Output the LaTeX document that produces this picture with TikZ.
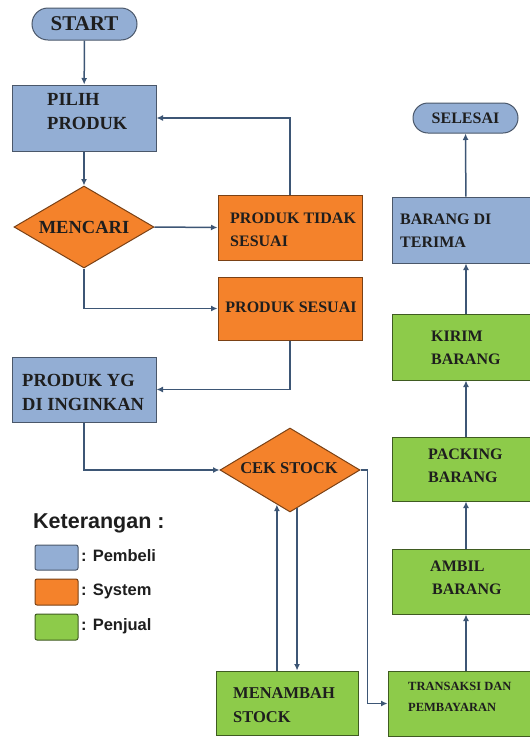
\documentclass[tikz,border=0pt]{standalone}
\usepackage{fontspec}
\setmainfont{Liberation Serif}
\newfontfamily\legfont{Liberation Sans}
\usetikzlibrary{shapes.geometric,shapes.misc,arrows.meta,calc}
\definecolor{cblue}{HTML}{93AED4}
\definecolor{corange}{HTML}{F4822B}
\definecolor{cgreen}{HTML}{8DCB4A}
\definecolor{cline}{HTML}{3D5675}
\definecolor{ctext}{HTML}{1E1E1E}
\begin{document}
\begin{tikzpicture}[x=1pt,y=-1pt,
  box/.style={line width=1pt, inner sep=0pt, rectangle},
  bluebox/.style={box, fill=cblue, draw=cblue!50!black},
  orangebox/.style={box, fill=corange, draw=corange!50!black},
  greenbox/.style={box, fill=cgreen, draw=cgreen!45!black},
  pill/.style={rounded rectangle, line width=1pt, inner sep=0pt, fill=cblue, draw=cblue!50!black},
  dia/.style={diamond, line width=1pt, inner sep=0pt, fill=corange, draw=corange!50!black},
  arr/.style={draw=cline, line width=1.5pt, -{Latex[length=6.5pt,width=6pt]}},
  lbl/.style={text=ctext, align=left, inner sep=0pt},
  big/.style={lbl, font=\fontsize{18.5}{24}\selectfont\bfseries},
  mid/.style={lbl, font=\fontsize{16}{23}\selectfont\bfseries},
  small/.style={lbl, font=\fontsize{12.5}{21}\selectfont\bfseries},
  leg/.style={lbl, font=\legfont\fontsize{16.5}{20}\selectfont\bfseries},
]
\useasboundingbox (0,0) rectangle (530,737);

% shapes
\node[pill, minimum width=105pt, minimum height=32pt] (start) at (84.5,24) {};
\node[bluebox, minimum width=144pt, minimum height=66pt] (pilih) at (84,118) {};
\node[dia, minimum width=140pt, minimum height=82pt] (mencari) at (84,227) {};
\node[orangebox, minimum width=144pt, minimum height=65pt] (tidak) at (290,227.5) {};
\node[orangebox, minimum width=144pt, minimum height=63pt] (sesuai) at (290,308.5) {};
\node[bluebox, minimum width=144pt, minimum height=65pt] (yg) at (84,389.5) {};
\node[dia, minimum width=140pt, minimum height=84pt] (cek) at (290,470) {};
\node[greenbox, minimum width=142pt, minimum height=64pt] (tambah) at (287,703) {};
\node[greenbox, minimum width=156pt, minimum height=65pt] (trans) at (466,703.5) {};
\node[greenbox, minimum width=148pt, minimum height=65pt] (ambil) at (466,581.5) {};
\node[greenbox, minimum width=148pt, minimum height=64pt] (packing) at (466,469) {};
\node[greenbox, minimum width=148pt, minimum height=66pt] (kirim) at (466,347) {};
\node[bluebox, minimum width=148pt, minimum height=66pt] (terima) at (466,230) {};
\node[pill, minimum width=105pt, minimum height=30pt] (selesai) at (465.5,118) {};

% texts
\node[lbl, font=\fontsize{21}{24}\selectfont\bfseries] (tstart) at (start) {START};
\node[big, anchor=west] (tpilih) at (47,112) {PILIH\\PRODUK};
\node[big] (tmencari) at (mencari) {MENCARI};
\node[mid, anchor=west] (ttidak) at (230,230) {PRODUK TIDAK\\SESUAI};
\node[mid] (tsesuai) at (291,307) {PRODUK SESUAI};
\node[big, anchor=west] (tyg) at (22,392) {PRODUK YG\\DI INGINKAN};
\node[mid, font=\fontsize{16.5}{23}\selectfont\bfseries] (tcek) at (289,468) {CEK STOCK};
\node[mid, font=\fontsize{16.5}{24}\selectfont\bfseries, anchor=west] (ttambah) at (233,705) {MENAMBAH\\STOCK};
\node[small, anchor=west] (ttrans) at (408,697) {TRANSAKSI DAN\\PEMBAYARAN};
\node[mid, anchor=west] (tambil) at (430,578) {AMBIL\\\hspace*{2pt}BARANG};
\node[mid, anchor=west] (tpacking) at (428,466) {PACKING\\BARANG};
\node[mid, anchor=west] (tkirim) at (431,348) {KIRIM\\BARANG};
\node[mid, anchor=west] (tterima) at (400,231) {BARANG DI\\TERIMA};
\node[lbl, font=\fontsize{16}{20}\selectfont\bfseries] (tselesai) at (selesai) {SELESAI};

% connectors
\draw[arr] (start) -- (pilih);
\draw[arr] (pilih) -- (mencari);
\draw[arr] (mencari.east) -- (tidak.west);
\draw[arr] (tidak.north) |- (pilih.east);
\draw[arr] (mencari.south) |- (sesuai.west);
\draw[arr] (sesuai.south) |- (yg.east);
\draw[arr] (yg.south) |- (cek.west);
\coordinate (bend) at ($(cek.east)+(7,0)$);
\draw[arr] (cek.east) -- (bend) |- (trans.west);
\coordinate (cu) at ($(cek.south)!0.186!(cek.west)$);
\coordinate (cd) at ($(cek.south)!0.1!(cek.east)$);
\draw[arr] (tambah.north -| cu) -- (cu);
\draw[arr] (cd) -- (tambah.north -| cd);
\draw[arr] (trans) -- (ambil);
\draw[arr] (ambil) -- (packing);
\draw[arr] (packing) -- (kirim);
\draw[arr] (kirim) -- (terima);
\draw[arr] (terima) -- (selesai);

% legend
\node[lbl, font=\legfont\fontsize{21.5}{24}\selectfont\bfseries, anchor=west] (ket) at (33,523) {Keterangan :};
\node[bluebox, rounded corners=2pt, minimum width=43pt, minimum height=25pt] (lgb) at (56.5,557.5) {};
\node[orangebox, rounded corners=2pt, minimum width=43pt, minimum height=26pt] (lgo) at (56.5,592) {};
\node[greenbox, rounded corners=2pt, minimum width=43pt, minimum height=26pt] (lgg) at (56.5,627) {};
\node[leg, anchor=west] (tlgb) at (81,556) {: Pembeli};
\node[leg, anchor=west] (tlgo) at (81,591) {: System};
\node[leg, anchor=west] (tlgg) at (81,626) {: Penjual};
\end{tikzpicture}
\end{document}
